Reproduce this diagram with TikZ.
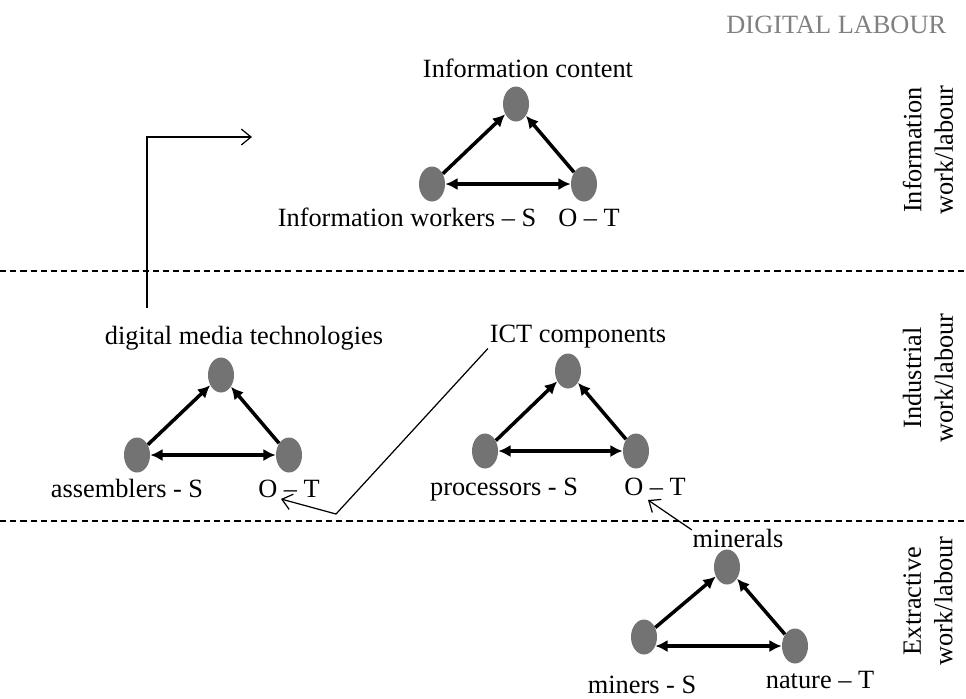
\documentclass[tikz,border=0pt]{standalone}
\usepackage{fontspec}
\setmainfont{Liberation Serif}
\usetikzlibrary{shapes.geometric, arrows.meta, positioning, calc}
\definecolor{blobgray}{RGB}{115,115,115}
\definecolor{headgray}{RGB}{128,128,128}

\begin{document}
\begin{tikzpicture}[x=0.02cm, y=-0.02cm,
    blob/.style={ellipse, fill=blobgray, minimum width=0.52cm, minimum height=0.7cm, inner sep=0pt},
    lbl/.style={font=\fontsize{15}{18}\selectfont, anchor=base, inner sep=2pt},
    sidelbl/.style={font=\fontsize{15}{18}\selectfont, align=center, rotate=90},
    link/.style={-{Latex[length=7pt, width=7pt]}, line width=2pt},
    twoway/.style={{Latex[length=7pt, width=7pt]}-{Latex[length=7pt, width=7pt]}, line width=2pt},
    pointer/.style={-{Straight Barb[length=5.5pt, width=9pt]}, line width=0.7pt},
    divider/.style={line width=0.6pt, dash pattern=on 3.5pt off 2.3pt}]

    \useasboundingbox (0,0) rectangle (966,698);

    % Header
    \node[lbl, anchor=base east, text=headgray] (title) at (950,33) {DIGITAL LABOUR};

    % Layer borders
    \draw[divider] (0,271) -- (966,271);
    \draw[divider] (0,521) -- (966,521);

    % Layer names
    \node[sidelbl] (infoSide) at (928,150) {Information\\work/labour};
    \node[sidelbl] (indSide) at (928,378) {Industrial\\work/labour};
    \node[sidelbl] (extSide) at (928,601) {Extractive\\work/labour};

    % Information triangle
    \node[blob] (infoTop) at (516,104) {};
    \node[blob] (infoS) at (432,184) {};
    \node[blob] (infoT) at (584,184) {};
    \node[lbl] (infoContent) at (528,77) {Information content};
    \node[lbl] (infoWorkers) at (407,226) {Information workers – S};
    \node[lbl] (infoOT) at (589,226) {O – T};

    % Digital media triangle
    \node[blob] (dmTop) at (221,375) {};
    \node[blob] (dmS) at (137,455) {};
    \node[blob] (dmT) at (289,455) {};
    \node[lbl] (dmLabel) at (244,344) {digital media technologies};
    \node[lbl] (assemblers) at (127,497) {assemblers - S};
    \node[lbl] (dmOT) at (289,497) {O – T};

    % ICT triangle
    \node[blob] (ictTop) at (568,371) {};
    \node[blob] (ictS) at (485,451) {};
    \node[blob] (ictT) at (636,451) {};
    \node[lbl] (ictLabel) at (578,342) {ICT components};
    \node[lbl] (processors) at (504,495) {processors - S};
    \node[lbl] (ictOT) at (655,495) {O – T};

    % Mining triangle
    \node[blob] (minTop) at (727,567) {};
    \node[blob] (minS) at (644,637) {};
    \node[blob] (minT) at (795,646) {};
    \node[lbl] (mineralsLabel) at (738,547) {minerals};
    \node[lbl] (miners) at (642,693) {miners - S};
    \node[lbl] (nature) at (820,688) {nature – T};

    % Triangle arrows
    \draw[link] (infoS) -- (infoTop);
    \draw[link] (infoT) -- (infoTop);
    \draw[twoway] (infoS) -- (infoT);
    \draw[link] (dmS) -- (dmTop);
    \draw[link] (dmT) -- (dmTop);
    \draw[twoway] (dmS) -- (dmT);
    \draw[link] (ictS) -- (ictTop);
    \draw[link] (ictT) -- (ictTop);
    \draw[twoway] (ictS) -- (ictT);
    \draw[link] (minS) -- (minTop);
    \draw[link] (minT) -- (minTop);
    \draw[twoway] ([xshift=-0.04cm]minS.east |- minT) -- (minT.west);

    % Links between layers
    \coordinate (upTip) at (252,137);
    \coordinate (ictBend) at (336,514);
    \draw[pointer] ($(dmLabel.north west)+(46,-14)$) |- (upTip);
    \draw[pointer] ($(ictLabel.south west)+(2,-3)$) -- (ictBend) -- ($(dmOT.base)+(-8,2)$);
    \draw[pointer] ($(mineralsLabel.north west)+(3,5)$) -- ($(ictOT.base)+(-7,5)$);
\end{tikzpicture}
\end{document}
